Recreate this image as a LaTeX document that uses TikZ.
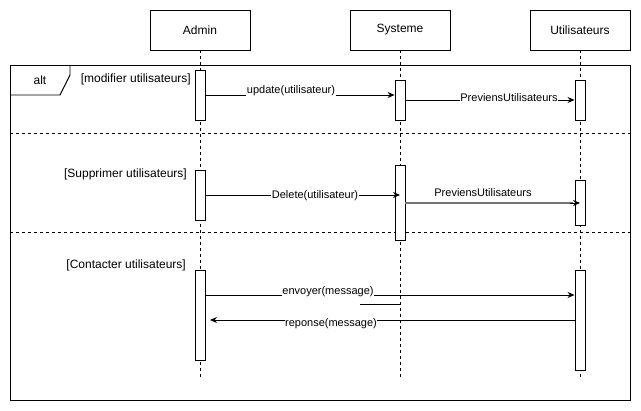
\documentclass[tikz,border=0pt]{standalone}
\usepackage{fontspec}
\setmainfont{Liberation Sans}
\usetikzlibrary{arrows.meta}
\begin{document}
\begin{tikzpicture}[x=1pt,y=-1pt,
  head/.style={draw,line width=0.9pt,minimum width=100pt,minimum height=40pt,font=\fontsize{12}{14}\selectfont,inner sep=0pt},
  act/.style={draw,fill=white,line width=0.9pt,minimum width=10pt,inner sep=0pt},
  life/.style={line width=0.9pt,dash pattern=on 3pt off 3pt},
  msg/.style={line width=0.9pt,-{Stealth[length=7pt,width=6pt]}},
  lbl/.style={font=\fontsize{11}{13}\selectfont,fill=white,inner sep=0.5pt},
  guard/.style={font=\fontsize{12}{14}\selectfont,inner sep=0pt},
  sep/.style={line width=0.9pt,dash pattern=on 3pt off 3pt}]
\useasboundingbox (0,0) rectangle (641,411);
% headers
\node[head] (admin) at (200,30) {Admin};
\node[head] (sys) at (400,30) {Systeme};
\node[head] (usr) at (580,30) {Utilisateurs};
% lifeline ends
\coordinate (adminEnd) at (200,378);
\coordinate (sysEnd) at (400,378);
\coordinate (usrEnd) at (580,378);
\draw[life] (admin.south) -- (adminEnd);
\draw[life] (sys.south) -- (sysEnd);
\draw[life] (usr.south) -- (usrEnd);
% frame
\draw[line width=0.9pt] (10,65) rectangle (630,400);
\draw[line width=0.9pt] (10,95) -- (60,95) -- (70,75) -- (70,65);
\node[guard] (alt) at (40,80) {alt};
\draw[sep] (10,133) -- (630,133);
\draw[sep] (10,232) -- (630,232);
\node[guard,anchor=east] (g1) at (191,79) {[modifier utilisateurs]};
\node[guard,anchor=east] (g2) at (187,174) {[Supprimer utilisateurs]};
\node[guard,anchor=east] (g3) at (186,265) {[Contacter utilisateurs]};
% activations
\node[act,minimum height=50pt] (a1) at (200,95) {};
\node[act,minimum height=50pt] (a2) at (200,195) {};
\node[act,minimum height=90pt] (a3) at (200,315) {};
\node[act,minimum height=40pt] (s1) at (400,100) {};
\node[act,minimum height=75pt] (s2) at (400,202.5) {};
\node[act,minimum height=40pt] (u1) at (580,100) {};
\node[act,minimum height=45pt] (u2) at (580,202.5) {};
\node[act,minimum height=100pt] (u3) at (580,320) {};
% messages
\draw[msg] (a1.east |- 0,95) -- (s1.west |- 0,95);
\node[lbl] (m1) at (291,91) {update(utilisateur)};
\draw[msg] (s1.east |- 0,100) -- (u1.west |- 0,100);
\node[lbl] (m2) at (509,98) {PreviensUtilisateurs};
\draw[msg] (a2.east |- 0,195) -- (s2.center |- 0,195);
\node[lbl] (m3) at (315,196) {Delete(utilisateur)};
\draw[line width=2pt,draw=black!55] (s2.east |- 0,203) -- (573,203);
\draw[line width=0.9pt,-{Stealth[length=7pt,width=6pt]}] (570,203) -- (u2.center |- 0,203);
\node[lbl] (m4) at (483,193) {PreviensUtilisateurs};
\draw[msg] (a3.east |- 0,295) -- (u3.west |- 0,295);
\node[lbl] (m5) at (328,292) {envoyer(message)};
\coordinate (stubA) at (360,304);
\draw[line width=0.9pt] (stubA) -- (sys.center |- stubA);
\draw[msg] (u3.west |- 0,320) -- (210,320);
\node[lbl] (m6) at (331,324) {reponse(message)};
\end{tikzpicture}
\end{document}
